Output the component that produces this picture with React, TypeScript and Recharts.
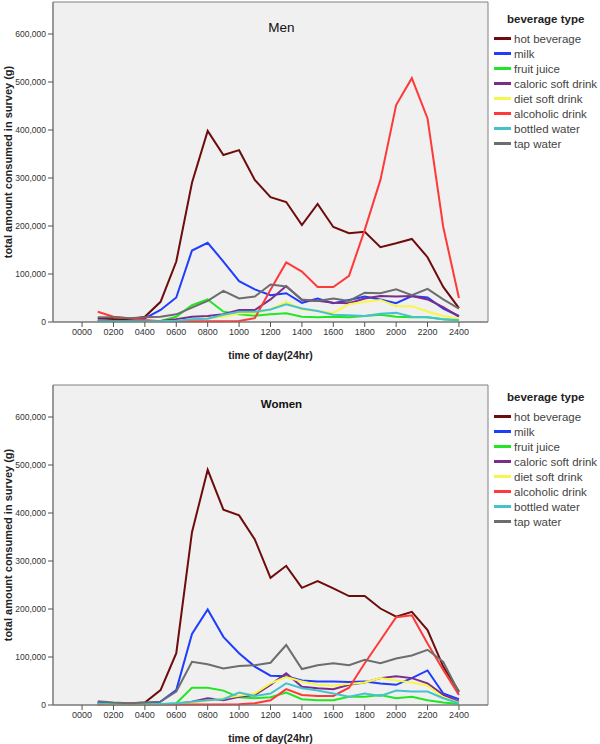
import React from 'react';
import { CartesianGrid, Label, Legend, Line, LineChart, ReferenceArea, XAxis, YAxis } from 'recharts';

const HOURS = [100, 200, 300, 400, 500, 600, 700, 800, 900, 1000, 1100, 1200, 1300, 1400, 1500, 1600, 1700, 1800, 1900, 2000, 2100, 2200, 2300, 2400];
const X_TICKS = [0, 200, 400, 600, 800, 1000, 1200, 1400, 1600, 1800, 2000, 2200, 2400];
const Y_TICKS = [0, 100000, 200000, 300000, 400000, 500000, 600000];

const SERIES_KEYS = ['hot', 'milk', 'juice', 'caloric', 'diet', 'alcohol', 'bottled', 'tap'];
const SERIES_NAMES = ['hot beverage', 'milk', 'fruit juice', 'caloric soft drink', 'diet soft drink', 'alcoholic drink', 'bottled water', 'tap water'];

// men
const menHot = [8000, 6000, 5000, 11000, 42000, 126000, 290000, 398000, 348000, 358000, 296000, 260000, 250000, 202000, 246000, 198000, 185000, 188000, 156000, 164000, 173000, 135000, 73000, 29000];
const menMilk = [3000, 2000, 2000, 7600, 25000, 51000, 149000, 165000, 126000, 85000, 68000, 56000, 60000, 40000, 49000, 39000, 46000, 53000, 47000, 39000, 54000, 51000, 28000, 12500];
const menJuice = [1000, 1000, 1000, 1000, 2000, 11000, 35000, 47000, 21500, 16000, 13000, 16000, 18000, 11000, 10000, 11000, 10000, 12500, 15000, 11000, 10000, 10000, 5500, 3000];
const menCaloric = [2000, 2000, 2000, 2000, 2000, 5500, 11000, 12500, 16000, 25000, 25000, 47000, 75000, 46000, 44000, 40000, 39000, 49000, 54000, 53000, 54000, 47000, 31000, 11000];
const menDiet = [500, 500, 500, 500, 1000, 2000, 4000, 7600, 11000, 18000, 18000, 26000, 42000, 26000, 23000, 19000, 37000, 42000, 46000, 33000, 33000, 22000, 12500, 7500];
const menAlcohol = [21500, 11000, 7600, 4000, 1500, 1500, 1500, 1500, 1500, 2000, 8000, 67000, 124000, 105000, 73000, 73000, 96000, 192000, 296000, 452000, 508000, 424000, 198000, 50000];
const menBottled = [1000, 1000, 1000, 1000, 1500, 2500, 5500, 7000, 15000, 21500, 21500, 26000, 37000, 28000, 23000, 15000, 14000, 12500, 17000, 19000, 11000, 10000, 5500, 4000];
const menTap = [10000, 10000, 7600, 10000, 11000, 16000, 30000, 44000, 65000, 49000, 53000, 78000, 74000, 47000, 44000, 49000, 44000, 61000, 60000, 68000, 56000, 69000, 47000, 28000];

// women
const womenHot = [5000, 3000, 3000, 5000, 31000, 108000, 360000, 490000, 407000, 395000, 345000, 265000, 290000, 244000, 258000, 243000, 227000, 227000, 201000, 184000, 194000, 156000, 80000, 28000];
const womenMilk = [5000, 2000, 2000, 3500, 7000, 31000, 148000, 199000, 142000, 108000, 80000, 61000, 60000, 51000, 49000, 49000, 48000, 49000, 45000, 42000, 56000, 72000, 24000, 12000];
const womenJuice = [0, 0, 0, 500, 1000, 3500, 36000, 36000, 30000, 16000, 14000, 16000, 26000, 12000, 10000, 10000, 17000, 17000, 21000, 14000, 17000, 10000, 5000, 2000];
const womenCaloric = [1500, 1000, 1000, 1000, 1000, 2000, 7000, 14000, 10000, 17000, 21000, 42000, 66000, 38000, 35000, 33000, 42000, 47000, 56000, 60000, 56000, 45000, 21000, 7000];
const womenDiet = [500, 500, 500, 500, 1000, 2000, 5000, 9000, 14000, 19000, 24000, 45000, 58000, 49000, 42000, 40000, 44000, 47000, 56000, 51000, 47000, 40000, 16000, 5000];
const womenAlcohol = [1000, 1000, 1000, 1000, 1000, 1000, 1000, 1000, 1000, 1500, 3500, 10000, 33000, 21000, 19000, 19000, 36000, 87000, 135000, 183000, 187000, 128000, 73000, 21000];
const womenBottled = [3000, 2000, 2000, 2000, 2000, 3500, 7000, 10000, 12000, 26000, 19000, 24000, 45000, 35000, 30000, 24000, 17000, 24000, 19000, 30000, 28000, 28000, 14000, 3500];
const womenTap = [8000, 5000, 3500, 5000, 7000, 28000, 90000, 85000, 76000, 81000, 83000, 88000, 125000, 75000, 83000, 87000, 83000, 94000, 87000, 97000, 103000, 115000, 90000, 26000];

const COLORS: Record<string, string> = {
  hot: '#6e0b0b',
  milk: '#1e3dff',
  juice: '#22e622',
  caloric: '#7b2d8b',
  diet: '#f7f74a',
  alcohol: '#ff3838',
  bottled: '#45c3cc',
  tap: '#6d6d6d',
};

const FONT = '"Liberation Sans", Arial, sans-serif';
const X_DOMAIN: [number, number] = [-185, 2585];
const Y_MAX = 666667;

function buildRows(values: number[][]) {
  return HOURS.map((hour, i) => {
    const row: Record<string, number> = { hour };
    SERIES_KEYS.forEach((k, j) => {
      row[k] = values[j][i];
    });
    return row;
  });
}

const menRows = buildRows([menHot, menMilk, menJuice, menCaloric, menDiet, menAlcohol, menBottled, menTap]);
const womenRows = buildRows([womenHot, womenMilk, womenJuice, womenCaloric, womenDiet, womenAlcohol, womenBottled, womenTap]);

const fmtHour = (v: number) => String(v).padStart(4, '0');
const fmtValue = (v: number) => v.toLocaleString('en-US');

function LegendBox() {
  return (
    <div style={{ fontFamily: FONT }}>
      <div style={{ fontWeight: 'bold', fontSize: 11.5, color: '#222', height: 14, lineHeight: '14px', paddingLeft: 13, marginBottom: 5 }}>
        beverage type
      </div>
      {SERIES_KEYS.map((k, i) => (
        <div key={k} style={{ display: 'flex', alignItems: 'center', height: 15, fontSize: 11.5, color: '#444', whiteSpace: 'nowrap' }}>
          <span style={{ display: 'inline-block', width: 17, height: 3, background: COLORS[k], marginRight: 3 }} />
          {SERIES_NAMES[i]}
        </div>
      ))}
    </div>
  );
}

type PanelProps = {
  title: string;
  bold: boolean;
  rows: Record<string, number>[];
  top: number;
  axisHeight: number;
  legendTop: number;
  titleDy: number;
};

function Panel({ title, bold, rows, top, axisHeight, legendTop, titleDy }: PanelProps) {
  return (
    <LineChart width={600} height={372} data={rows} margin={{ top, right: 112, bottom: 0, left: 0 }}>
      <CartesianGrid horizontal={false} vertical={false} fill="#f0f0f0" />
      <XAxis
        dataKey="hour"
        type="number"
        domain={X_DOMAIN}
        ticks={X_TICKS}
        interval={0}
        tickFormatter={fmtHour}
        height={axisHeight}
        tickSize={5}
        tickMargin={2}
        tick={{ fontSize: 9, fill: '#333', fontFamily: FONT }}
        tickLine={{ stroke: '#555' }}
        axisLine={{ stroke: '#777' }}
      >
        <Label
          content={({ viewBox }: any) => (
            <text x={viewBox.x + viewBox.width / 2} y={viewBox.y + 37} textAnchor="middle" fontFamily={FONT} fontSize={10.5} fontWeight="bold" fill="#222">
              time of day(24hr)
            </text>
          )}
        />
      </XAxis>
      <YAxis
        type="number"
        domain={[0, Y_MAX]}
        ticks={Y_TICKS}
        interval={0}
        tickFormatter={fmtValue}
        width={53}
        tickSize={5}
        tickMargin={2}
        tick={{ fontSize: 8.5, fill: '#333', fontFamily: FONT }}
        tickLine={{ stroke: '#555' }}
        axisLine={{ stroke: '#777' }}
      >
        <Label
          content={({ viewBox }: any) => {
            const cx = viewBox.x + 8;
            const cy = viewBox.y + viewBox.height / 2;
            return (
              <text x={cx} y={cy} transform={`rotate(-90 ${cx} ${cy})`} textAnchor="middle" dominantBaseline="central" fontFamily={FONT} fontSize={11} fontWeight="bold" fill="#222">
                total amount consumed in survey (g)
              </text>
            );
          }}
        />
      </YAxis>
      <ReferenceArea
        x1={X_DOMAIN[0]}
        x2={X_DOMAIN[1]}
        y1={0}
        y2={Y_MAX}
        fill="none"
        stroke="#808080"
        label={({ viewBox }: any) => (
          <text x={viewBox.x + viewBox.width / 2 + 11} y={viewBox.y + titleDy} textAnchor="middle" dominantBaseline="central" fontFamily={FONT} fontSize={bold ? 11.5 : 13.5} fontWeight={bold ? 'bold' : 'normal'} fill="#111">
            {title}
          </text>
        )}
      />
      {SERIES_KEYS.map((k, i) => (
        <Line key={k} type="linear" dataKey={k} name={SERIES_NAMES[i]} stroke={COLORS[k]} strokeWidth={2} dot={false} activeDot={false} isAnimationActive={false} />
      ))}
      <Legend layout="vertical" align="center" verticalAlign="middle" content={() => <LegendBox />} wrapperStyle={{ left: 494, top: legendTop, width: 106 }} />
    </LineChart>
  );
}

export default function App() {
  return (
    <div style={{ position: 'absolute', left: 0, top: 0, width: 600, height: 744, background: '#fff' }}>
      <Panel title="Men" bold={false} rows={menRows} top={2} axisHeight={50} legendTop={12} titleDy={25} />
      <Panel title="Women" bold={true} rows={womenRows} top={13} axisHeight={39} legendTop={18} titleDy={19} />
    </div>
  );
}
